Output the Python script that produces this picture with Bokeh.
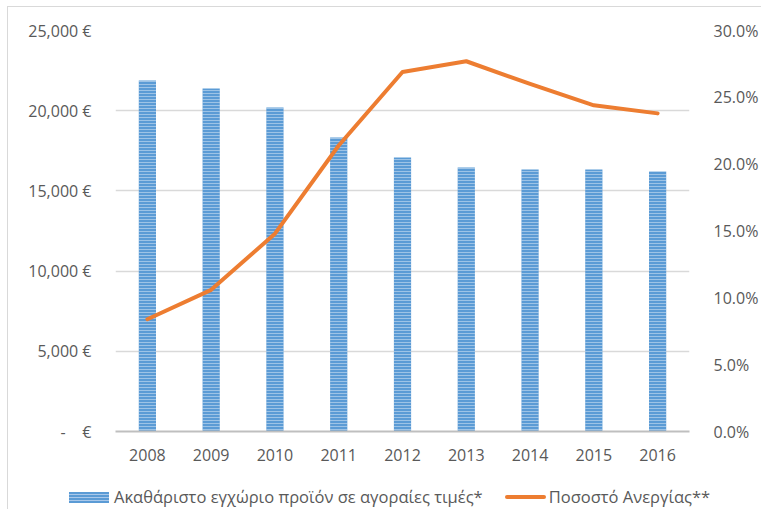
from bokeh.plotting import figure
from bokeh.layouts import column
from bokeh.models import (Range1d, LinearAxis, FixedTicker, CustomJSTickFormatter, Div)
from bokeh.embed import file_html
from bokeh.resources import INLINE

years = ["2008", "2009", "2010", "2011", "2012", "2013", "2014", "2015", "2016"]
gdp = [21880, 21380, 20200, 18330, 17080, 16460, 16330, 16330, 16210]
unemployment = [8.4, 10.6, 14.8, 21.4, 26.9, 27.7, 26.0, 24.4, 23.8]
gdp_ticks = [0, 5000, 10000, 15000, 20000, 25000]
pct_ticks = [0, 5, 10, 15, 20, 25, 30]
gdp_label = "Ακαθάριστο εγχώριο προϊόν σε αγοραίες τιμές*"
unemp_label = "Ποσοστό Ανεργίας**"

FONT = "Open Sans"
TXT = "#595959"
BLUE = "#5B9BD5"
ORANGE = "#ED7D31"

W = 753
H1 = 459
H2 = 43

p = figure(x_range=years, y_range=Range1d(0, 25000), width=W, height=H1,
           output_backend="svg", toolbar_location=None,
           min_border_left=107, min_border_right=63, min_border_top=23,
           min_border_bottom=H1 - 424)
p.outline_line_color = None
p.extra_y_ranges = {"pct": Range1d(0, 30)}

p.vbar(x=years, top=gdp, width=0.27, fill_color=BLUE, line_color=None,
       hatch_pattern="horizontal_line", hatch_color="white", hatch_scale=3,
       hatch_weight=1, hatch_alpha=0.4)
p.line(x=years, y=unemployment, y_range_name="pct", line_color=ORANGE,
       line_width=4, line_join="round", line_cap="round")

# left axis
ya = p.yaxis[0]
ya.ticker = FixedTicker(ticks=gdp_ticks)
ya.formatter = CustomJSTickFormatter(code="""
if (tick == 0) { return "-\u00a0\u00a0\u00a0\u00a0€"; }
return tick.toLocaleString('en-US') + "\u00a0€";
""")
ya.axis_line_color = None
ya.major_tick_line_color = None
ya.minor_tick_line_color = None
ya.major_label_standoff = 18
ya.major_label_text_font = FONT
ya.major_label_text_font_size = "16px"
ya.major_label_text_color = TXT

# right axis
ra = LinearAxis(y_range_name="pct", ticker=FixedTicker(ticks=pct_ticks),
                formatter=CustomJSTickFormatter(code="return tick.toFixed(1) + '%';"))
ra.axis_line_color = None
ra.major_tick_line_color = None
ra.minor_tick_line_color = None
ra.major_label_standoff = 18
ra.major_label_text_font = FONT
ra.major_label_text_font_size = "16px"
ra.major_label_text_color = TXT
p.add_layout(ra, "right")

# x axis
xa = p.xaxis[0]
xa.axis_line_color = "#bfbfbf"
xa.axis_line_width = 2
xa.major_tick_line_color = None
xa.minor_tick_line_color = None
xa.major_label_standoff = 11
xa.major_label_text_font = FONT
xa.major_label_text_font_size = "16px"
xa.major_label_text_color = TXT

p.xgrid.grid_line_color = None
p.ygrid.grid_line_color = "#d9d9d9"
p.ygrid.grid_line_width = 1.5

# legend strip (HTML, real text)
bar_swatch = (
    "display:inline-block;width:40px;height:11px;margin-right:5px;"
    f"background:repeating-linear-gradient(to bottom,{BLUE} 0px,{BLUE} 2px,"
    "#a9c8ea 2px,#a9c8ea 3px);"
)
line_swatch = (
    f"display:inline-block;width:41px;height:4px;border-radius:2px;"
    f"background:{ORANGE};margin-left:22px;margin-right:3px;"
)
legend_html = (
    f"<div style=\"display:flex;align-items:center;height:20px;margin-top:21px;"
    f"padding-left:61px;white-space:nowrap;font-family:'{FONT}';font-size:16.5px;"
    f"color:{TXT};\">"
    f"<span style=\"{bar_swatch}\"></span><span>{gdp_label}</span>"
    f"<span style=\"{line_swatch}\"></span><span>{unemp_label}</span>"
    "</div>"
)
legend = Div(text=legend_html, width=745, height=H2, margin=0)

layout = column(p, legend, spacing=0, margin=(6, 0, 0, 7),
                styles={"border-top": "1px solid #d9d9d9",
                        "border-left": "1px solid #d9d9d9"})
open("out.html", "w").write(file_html(layout, INLINE))
